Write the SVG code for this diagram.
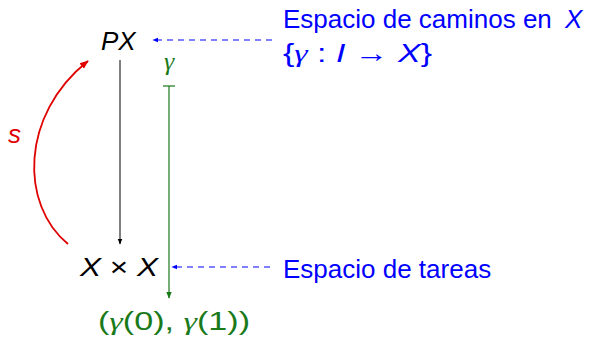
<svg xmlns="http://www.w3.org/2000/svg" width="591" height="339" viewBox="0 0 591 339">
<defs>
<marker id="ab" viewBox="0 0 10 10" refX="9" refY="5" markerWidth="6" markerHeight="6" orient="auto"><path d="M0,1 L10,5 L0,9 z" fill="#000"/></marker>
<marker id="ag" viewBox="0 0 10 10" refX="9" refY="5" markerWidth="6" markerHeight="6" orient="auto"><path d="M0,1 L10,5 L0,9 z" fill="#1a7a1a"/></marker>
<marker id="au" viewBox="0 0 10 10" refX="9" refY="5" markerWidth="6" markerHeight="6" orient="auto"><path d="M0,1 L10,5 L0,9 z" fill="#0000ff"/></marker>
<marker id="ar" viewBox="0 0 10 10" refX="9" refY="5" markerWidth="5" markerHeight="5" orient="auto"><path d="M0,1 L10,5 L0,9 z" fill="#e00000"/></marker>
</defs>
<style>
text{font-family:"Liberation Sans","DejaVu Sans",sans-serif;font-size:26px}
.m{font-style:italic}
.blue{fill:#0000ff}
.green{fill:#1a7a1a}
.g{font-family:"Liberation Serif","DejaVu Serif",serif;font-style:italic}
</style>
<g id="connectors" fill="none">
<line x1="120" y1="60" x2="120" y2="244" stroke="#000" stroke-width="1" marker-end="url(#ab)"/>
<line x1="169" y1="86" x2="169" y2="298" stroke="#1a7a1a" stroke-width="1.2" marker-end="url(#ag)"/>
<line x1="163" y1="86" x2="175" y2="86" stroke="#1a7a1a" stroke-width="1.2"/>
<text x="169" y="70" class="green g" text-anchor="middle" stroke="none">γ</text>
<path d="M68,244 C20,205 20,115 88,61" stroke="#e00000" stroke-width="1.8" marker-end="url(#ar)"/>
<text x="8" y="143" class="m" fill="#e00000" stroke="none">s</text>
<line x1="272" y1="40" x2="153" y2="40" stroke="#0000ff" stroke-width="1" stroke-dasharray="6,5" marker-end="url(#au)"/>
<line x1="270" y1="267" x2="172" y2="267" stroke="#0000ff" stroke-width="1" stroke-dasharray="6,5" marker-end="url(#au)"/>
</g>
<g id="PX"><text x="101" y="50" class="m">PX</text></g>
<g id="XxX"><text x="80" y="276" textLength="78" lengthAdjust="spacingAndGlyphs"><tspan class="m">X</tspan> × <tspan class="m">X</tspan></text></g>
<g id="endpoints"><text x="98" y="330" class="green" textLength="152" lengthAdjust="spacingAndGlyphs">(<tspan class="g">γ</tspan>(0), <tspan class="g">γ</tspan>(1))</text></g>
<g id="caminos">
<text x="283" y="28" class="blue">Espacio de caminos en</text>
<text x="565" y="28" class="blue m">X</text>
<text x="283" y="62" class="blue" textLength="149" lengthAdjust="spacingAndGlyphs">{<tspan class="g">γ</tspan> : <tspan class="m">I</tspan> → <tspan class="m">X</tspan>}</text>
</g>
<g id="tareas"><text x="283" y="278" class="blue">Espacio de tareas</text></g>
</svg>
